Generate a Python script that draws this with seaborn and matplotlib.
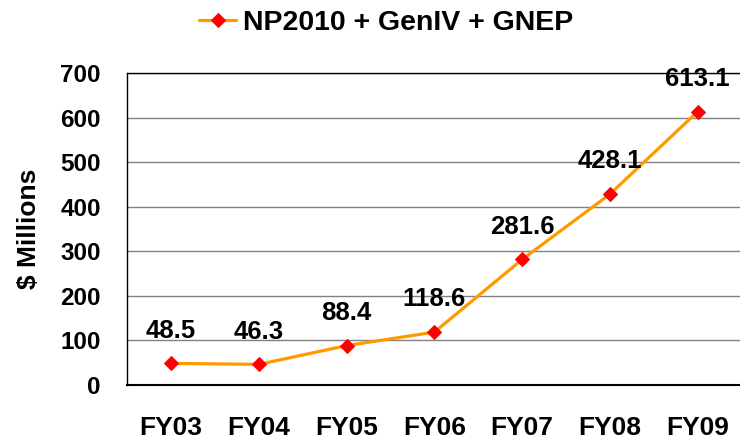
import numpy as np
import pandas as pd
import matplotlib
matplotlib.use("Agg")
import matplotlib.pyplot as plt
import seaborn as sns
from matplotlib.ticker import FixedLocator

# ── data ──────────────────────────────────────────────
years = ["FY03", "FY04", "FY05", "FY06", "FY07", "FY08", "FY09"]
budget = [48.5, 46.3, 88.4, 118.6, 281.6, 428.1, 613.1]
series_name = "NP2010 + GenIV + GNEP"

df = pd.DataFrame({"year": years, "budget": budget, "series": series_name})

sns.set_style("white")
plt.rcParams["font.family"] = ["Liberation Sans", "DejaVu Sans"]
plt.rcParams["font.weight"] = "bold"
for k in ["text.color", "axes.labelcolor", "xtick.color", "ytick.color"]:
    plt.rcParams[k] = "black"

fig = plt.figure(figsize=(7.4, 4.41), dpi=100)
ax = fig.add_axes([0.172, 0.127, 0.830, 0.7075])

pos = np.arange(len(years))
sns.lineplot(x=pos, y=df["budget"], ax=ax, color="#FF9900", linewidth=2.3,
             marker="D", markersize=7, markerfacecolor="#FF0000",
             markeredgecolor="#FF0000", label=series_name, legend=False)

# value labels above each point
for x, v in zip(pos, budget):
    ax.annotate(f"{v:.1f}", (x, v), xytext=(0, 15), textcoords="offset points",
                ha="center", va="bottom", fontsize=18.5, fontweight="bold")

ax.set_xlim(-0.5, len(years) - 0.5)
ax.set_ylim(0, 700)
ax.set_yticks(range(0, 701, 100))
ax.set_xticks(pos)
ax.set_xticklabels(years)
ax.xaxis.set_minor_locator(FixedLocator(np.arange(-0.5, len(years), 1.0)))

ax.tick_params(axis="x", which="major", length=0, pad=22, labelsize=19)
ax.tick_params(axis="x", which="minor", length=6, width=1, direction="out")
ax.tick_params(axis="y", length=7, width=1, direction="out", labelsize=17.5, pad=12)
for lab in ax.get_xticklabels() + ax.get_yticklabels():
    lab.set_fontweight("bold")

ax.yaxis.grid(True, color="#808080", linewidth=1)
ax.set_axisbelow(True)
ax.spines["right"].set_visible(False)
ax.spines["top"].set_color("black")
ax.spines["top"].set_linewidth(1)
ax.spines["left"].set_color("black")
ax.spines["bottom"].set_color("black")
ax.spines["left"].set_linewidth(1)
ax.spines["bottom"].set_linewidth(1.5)

ax.set_xlabel("")
ax.set_ylabel("$ Millions", fontsize=19, fontweight="bold", labelpad=14)

handles, labels = ax.get_legend_handles_labels()
fig.legend(handles, labels, loc="upper center", bbox_to_anchor=(0.522, 1.035),
           frameon=False, prop={"size": 20.5, "weight": "bold"},
           handlelength=1.3, handletextpad=0.25)

fig.savefig("out.png", dpi=100)
